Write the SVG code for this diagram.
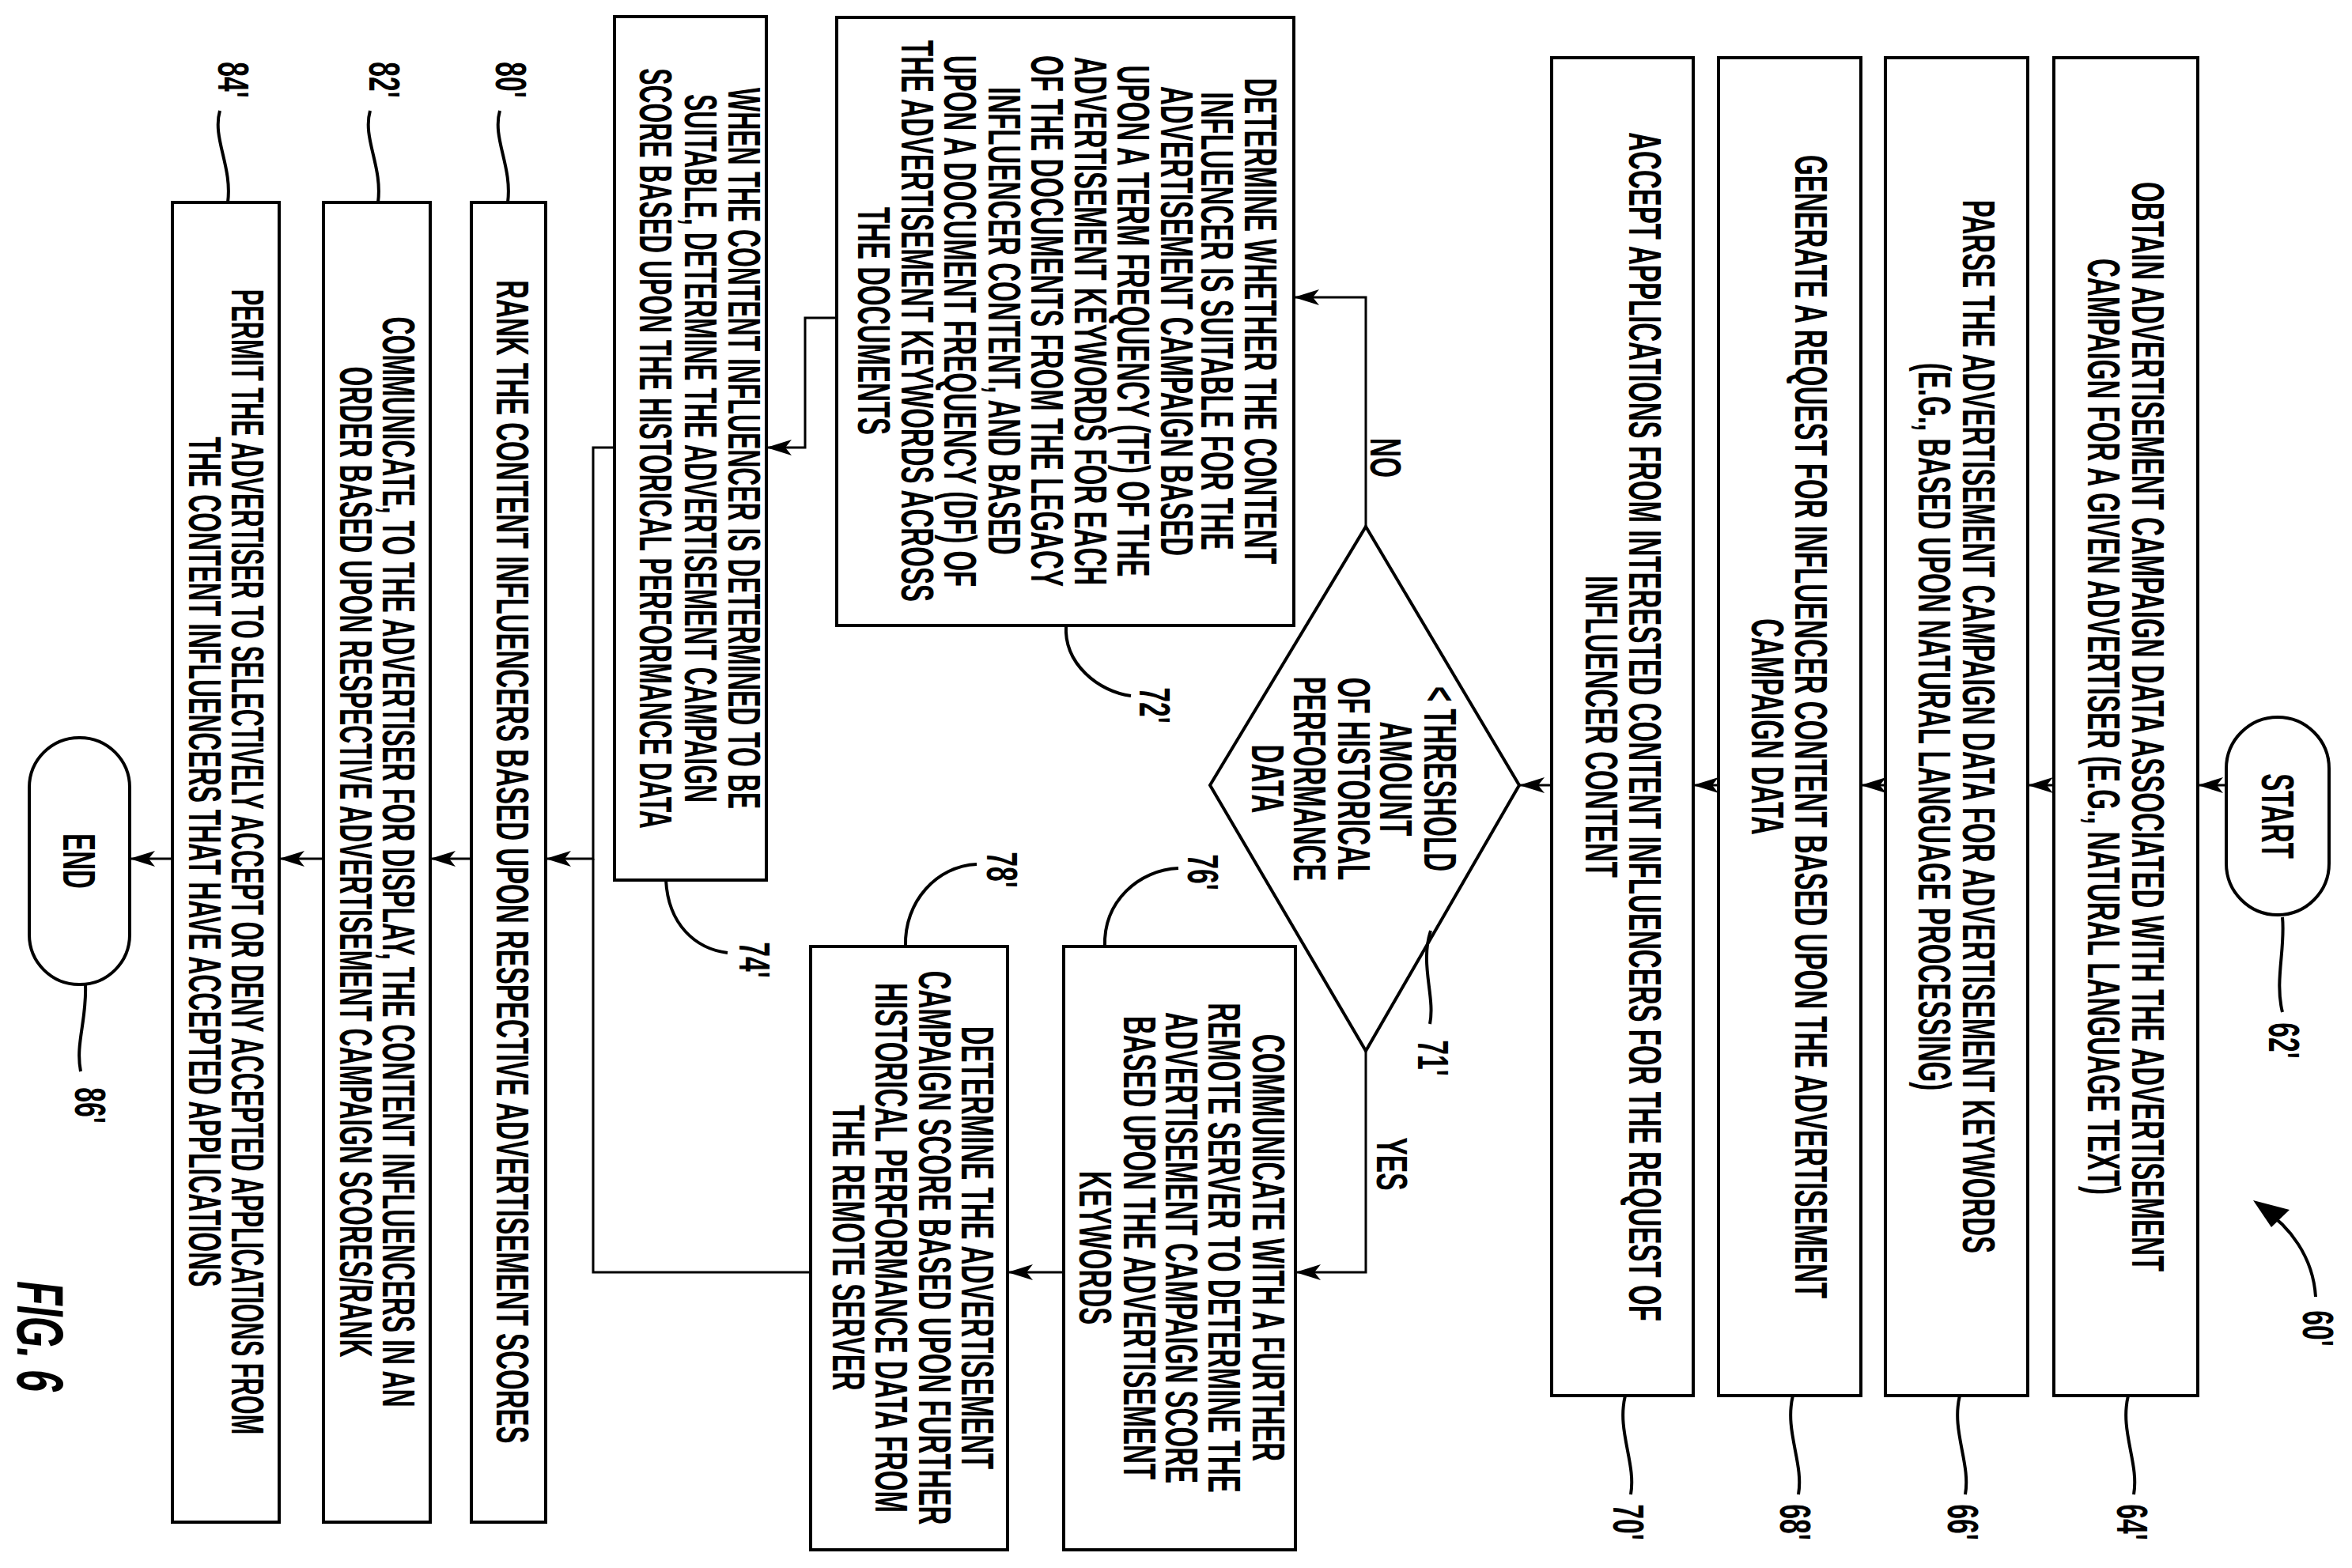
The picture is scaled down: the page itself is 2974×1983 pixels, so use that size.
<svg xmlns="http://www.w3.org/2000/svg" width="2974" height="1983" viewBox="0 0 2974 1983">
<defs>
<marker id="ah" markerUnits="userSpaceOnUse" markerWidth="40" markerHeight="30" refX="34" refY="12" orient="auto">
<path d="M2,2 L34,12 L2,22 L10,12 Z" fill="#000"/>
</marker>
<style>
.b{fill:#fff;stroke:#000;stroke-width:4}
.c{fill:none;stroke:#000;stroke-width:3}
.l{fill:none;stroke:#000;stroke-width:4}
.t{font-family:"Liberation Sans",Arial,sans-serif;font-weight:bold;font-size:58px;text-anchor:middle;dominant-baseline:central;fill:#000}
.n{font-family:"Liberation Sans",Arial,sans-serif;font-weight:bold;font-size:56px;text-anchor:middle;dominant-baseline:central;fill:#000}
.f{font-family:"Liberation Sans",Arial,sans-serif;font-weight:bold;font-style:italic;font-size:84px;text-anchor:middle;dominant-baseline:central;fill:#000}
</style>
</defs>
<g id="connectors">
<path class="c" d="M2815,993 L2779,993" marker-end="url(#ah)"/>
<path class="c" d="M2597,993 L2564,993" marker-end="url(#ah)"/>
<path class="c" d="M2384,993 L2353,993" marker-end="url(#ah)"/>
<path class="c" d="M2173,993 L2141,993" marker-end="url(#ah)"/>
<path class="c" d="M1962,993 L1921,993" marker-end="url(#ah)"/>
<path class="c" d="M1727,666 L1727,376 L1636,376" marker-end="url(#ah)"/>
<path class="c" d="M1727,1329 L1727,1609 L1638,1609" marker-end="url(#ah)"/>
<path class="c" d="M1345,1609 L1274,1609" marker-end="url(#ah)"/>
<path class="c" d="M1058,402 L1018,402 L1018,566 L969,566" marker-end="url(#ah)"/>
<path class="c" d="M1025,1609 L750,1609 L750,1086"/>
<path class="c" d="M777,566 L750,566 L750,1086 L690,1086" marker-end="url(#ah)"/>
<path class="c" d="M596,1086 L544,1086" marker-end="url(#ah)"/>
<path class="c" d="M409,1086 L353,1086" marker-end="url(#ah)"/>
<path class="c" d="M218,1086 L164,1086" marker-end="url(#ah)"/>
<text class="n" transform="translate(1752,579) rotate(90) scale(0.6,1)">NO</text>
<text class="n" transform="translate(1760,1472) rotate(90) scale(0.6,1)">YES</text>
</g>
<g id="start">
<rect class="b" x="2815" y="907" width="130" height="250" rx="65"/>
<text class="t" transform="translate(2880,1032) rotate(90) scale(0.57,1)">START</text>
</g>
<g id="n64">
<rect class="b" x="2597" y="73" width="182" height="1692"/>
<text class="t" transform="translate(2716,919) rotate(90) scale(0.57,1)">OBTAIN ADVERTISEMENT CAMPAIGN DATA ASSOCIATED WITH THE ADVERTISEMENT</text>
<text class="t" transform="translate(2660,919) rotate(90) scale(0.57,1)">CAMPAIGN FOR A GIVEN ADVERTISER (E.G., NATURAL LANGUAGE TEXT)</text>
</g>
<g id="n66">
<rect class="b" x="2384" y="73" width="180" height="1692"/>
<text class="t" transform="translate(2502,919) rotate(90) scale(0.57,1)">PARSE THE ADVERTISEMENT CAMPAIGN DATA FOR ADVERTISEMENT KEYWORDS</text>
<text class="t" transform="translate(2446,919) rotate(90) scale(0.57,1)">(E.G., BASED UPON NATURAL LANGUAGE PROCESSING)</text>
</g>
<g id="n68">
<rect class="b" x="2173" y="73" width="180" height="1692"/>
<text class="t" transform="translate(2290,919) rotate(90) scale(0.57,1)">GENERATE A REQUEST FOR INFLUENCER CONTENT BASED UPON THE ADVERTISEMENT</text>
<text class="t" transform="translate(2235,919) rotate(90) scale(0.57,1)">CAMPAIGN DATA</text>
</g>
<g id="n70">
<rect class="b" x="1962" y="73" width="179" height="1692"/>
<text class="t" transform="translate(2080,919) rotate(90) scale(0.57,1)">ACCEPT APPLICATIONS FROM INTERESTED CONTENT INFLUENCERS FOR THE REQUEST OF</text>
<text class="t" transform="translate(2025,919) rotate(90) scale(0.57,1)">INFLUENCER CONTENT</text>
</g>
<g id="n71">
<path class="b" d="M1727,666 L1921,993 L1727,1329 L1530,993 Z"/>
<text class="t" transform="translate(1821,985) rotate(90) scale(0.57,1)">&lt; THRESHOLD</text>
<text class="t" transform="translate(1765,985) rotate(90) scale(0.57,1)">AMOUNT</text>
<text class="t" transform="translate(1712,985) rotate(90) scale(0.57,1)">OF HISTORICAL</text>
<text class="t" transform="translate(1656,985) rotate(90) scale(0.57,1)">PERFORMANCE</text>
<text class="t" transform="translate(1603,985) rotate(90) scale(0.57,1)">DATA</text>
</g>
<g id="n72">
<rect class="b" x="1058" y="22" width="578" height="769"/>
<text class="t" transform="translate(1594,406) rotate(90) scale(0.57,1)">DETERMINE WHETHER THE CONTENT</text>
<text class="t" transform="translate(1539,406) rotate(90) scale(0.57,1)">INFLUENCER IS SUITABLE FOR THE</text>
<text class="t" transform="translate(1488,406) rotate(90) scale(0.57,1)">ADVERTISEMENT CAMPAIGN BASED</text>
<text class="t" transform="translate(1433,406) rotate(90) scale(0.57,1)">UPON A TERM FREQUENCY (TF) OF THE</text>
<text class="t" transform="translate(1379,406) rotate(90) scale(0.57,1)">ADVERTISEMENT KEYWORDS FOR EACH</text>
<text class="t" transform="translate(1324,406) rotate(90) scale(0.57,1)">OF THE DOCUMENTS FROM THE LEGACY</text>
<text class="t" transform="translate(1270,406) rotate(90) scale(0.57,1)">INFLUENCER CONTENT, AND BASED</text>
<text class="t" transform="translate(1214,406) rotate(90) scale(0.57,1)">UPON A DOCUMENT FREQUENCY (DF) OF</text>
<text class="t" transform="translate(1160,406) rotate(90) scale(0.57,1)">THE ADVERTISEMENT KEYWORDS ACROSS</text>
<text class="t" transform="translate(1105,406) rotate(90) scale(0.57,1)">THE DOCUMENTS</text>
</g>
<g id="n74">
<rect class="b" x="777" y="21" width="192" height="1092"/>
<text class="t" transform="translate(941,567) rotate(90) scale(0.55,1)">WHEN THE CONTENT INFLUENCER IS DETERMINED TO BE</text>
<text class="t" transform="translate(886,567) rotate(90) scale(0.55,1)">SUITABLE, DETERMINE THE ADVERTISEMENT CAMPAIGN</text>
<text class="t" transform="translate(829,567) rotate(90) scale(0.55,1)">SCORE BASED UPON THE HISTORICAL PERFORMANCE DATA</text>
</g>
<g id="n76">
<rect class="b" x="1345" y="1197" width="293" height="763"/>
<text class="t" transform="translate(1604,1578) rotate(90) scale(0.57,1)">COMMUNICATE WITH A FURTHER</text>
<text class="t" transform="translate(1548,1578) rotate(90) scale(0.57,1)">REMOTE SERVER TO DETERMINE THE</text>
<text class="t" transform="translate(1494,1578) rotate(90) scale(0.57,1)">ADVERTISEMENT CAMPAIGN SCORE</text>
<text class="t" transform="translate(1441,1578) rotate(90) scale(0.57,1)">BASED UPON THE ADVERTISEMENT</text>
<text class="t" transform="translate(1385,1578) rotate(90) scale(0.57,1)">KEYWORDS</text>
</g>
<g id="n78">
<rect class="b" x="1025" y="1197" width="249" height="763"/>
<text class="t" transform="translate(1236,1578) rotate(90) scale(0.57,1)">DETERMINE THE ADVERTISEMENT</text>
<text class="t" transform="translate(1182,1578) rotate(90) scale(0.57,1)">CAMPAIGN SCORE BASED UPON FURTHER</text>
<text class="t" transform="translate(1127,1578) rotate(90) scale(0.57,1)">HISTORICAL PERFORMANCE DATA FROM</text>
<text class="t" transform="translate(1073,1578) rotate(90) scale(0.57,1)">THE REMOTE SERVER</text>
</g>
<g id="n80">
<rect class="b" x="596" y="256" width="94" height="1669"/>
<text class="t" transform="translate(648,1090) rotate(90) scale(0.57,1)">RANK THE CONTENT INFLUENCERS BASED UPON RESPECTIVE ADVERTISEMENT SCORES</text>
</g>
<g id="n82">
<rect class="b" x="409" y="256" width="135" height="1669"/>
<text class="t" transform="translate(504,1090) rotate(90) scale(0.55,1)">COMMUNICATE, TO THE ADVERTISER FOR DISPLAY, THE CONTENT INFLUENCERS IN AN</text>
<text class="t" transform="translate(450,1090) rotate(90) scale(0.55,1)">ORDER BASED UPON RESPECTIVE ADVERTISEMENT CAMPAIGN SCORES/RANK</text>
</g>
<g id="n84">
<rect class="b" x="218" y="256" width="135" height="1669"/>
<text class="t" transform="translate(313,1090) rotate(90) scale(0.53,1)">PERMIT THE ADVERTISER TO SELECTIVELY ACCEPT OR DENY ACCEPTED APPLICATIONS FROM</text>
<text class="t" transform="translate(259,1090) rotate(90) scale(0.55,1)">THE CONTENT INFLUENCERS THAT HAVE ACCEPTED APPLICATIONS</text>
</g>
<g id="end">
<rect class="b" x="37" y="933" width="127" height="312" rx="63"/>
<text class="t" transform="translate(100,1089) rotate(90) scale(0.57,1)">END</text>
</g>
<g id="labels">
<path class="l" d="M2886,1160 C2890,1200 2876,1240 2886,1280"/>
<text class="n" transform="translate(2888,1316) rotate(90) scale(0.6,1)">62'</text>
<path class="l" d="M2928,1640 C2925,1590 2895,1550 2860,1528"/>
<path d="M2849,1518 L2895,1530 L2872,1552 Z" fill="#000"/>
<text class="n" transform="translate(2931,1680) rotate(90) scale(0.6,1)">60'</text>
<path class="l" d="M2691,1765 C2680,1810 2705,1850 2698,1890"/>
<text class="n" transform="translate(2696,1925) rotate(90) scale(0.6,1)">64'</text>
<path class="l" d="M2478,1765 C2467,1810 2492,1850 2485,1890"/>
<text class="n" transform="translate(2482,1925) rotate(90) scale(0.6,1)">66'</text>
<path class="l" d="M2267,1765 C2256,1810 2281,1850 2274,1890"/>
<text class="n" transform="translate(2270,1925) rotate(90) scale(0.6,1)">68'</text>
<path class="l" d="M2055,1765 C2044,1810 2069,1850 2062,1890"/>
<text class="n" transform="translate(2059,1925) rotate(90) scale(0.6,1)">70'</text>
<path class="l" d="M1348,791 C1345,840 1390,875 1430,880"/>
<text class="n" transform="translate(1460,892) rotate(90) scale(0.6,1)">72'</text>
<path class="l" d="M842,1113 C845,1170 880,1200 920,1205"/>
<text class="n" transform="translate(954,1214) rotate(90) scale(0.6,1)">74'</text>
<path class="l" d="M1809,1177 C1795,1220 1815,1260 1808,1295"/>
<text class="n" transform="translate(1812,1338) rotate(90) scale(0.6,1)">71'</text>
<path class="l" d="M1397,1197 C1395,1140 1440,1100 1490,1098"/>
<text class="n" transform="translate(1521,1103) rotate(90) scale(0.6,1)">76'</text>
<path class="l" d="M1145,1197 C1143,1140 1185,1095 1235,1093"/>
<text class="n" transform="translate(1267,1100) rotate(90) scale(0.6,1)">78'</text>
<path class="l" d="M642,256 C648,210 622,175 632,140"/>
<text class="n" transform="translate(646,101) rotate(90) scale(0.6,1)">80'</text>
<path class="l" d="M478,256 C484,210 458,175 468,140"/>
<text class="n" transform="translate(486,101) rotate(90) scale(0.6,1)">82'</text>
<path class="l" d="M288,256 C294,210 268,175 278,140"/>
<text class="n" transform="translate(295,101) rotate(90) scale(0.6,1)">84'</text>
<path class="l" d="M108,1245 C110,1290 95,1320 102,1355"/>
<text class="n" transform="translate(114,1398) rotate(90) scale(0.6,1)">86'</text>
<text class="f" transform="translate(51,1690) rotate(90) scale(0.6,1)">FIG. 6</text>
</g>
</svg>
